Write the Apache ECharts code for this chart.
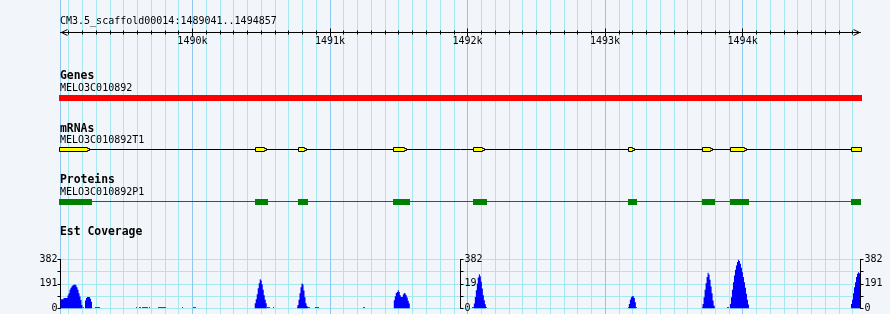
<!DOCTYPE html>
<html><head><meta charset="utf-8">
<script src="https://cdn.jsdelivr.net/npm/echarts@6/dist/echarts.min.js"></script>
<style>html,body{margin:0;padding:0;background:#f2f5fa}#c{width:890px;height:314px}</style>
</head><body><div id="c"></div><script>
// ---------- data ----------
const REGION_NAME = 'CM3.5_scaffold00014:1489041..1494857';
const REGION = [1489041, 1494857];
const MAJOR_TICKS = [1490000, 1491000, 1492000, 1493000, 1494000];
const MAJOR_LABELS = ['1490k', '1491k', '1492k', '1493k', '1494k'];
const MINOR_STEP = 100;

const GENE_NAME = 'MELO3C010892';
const GENE_SPAN = [1489030, 1494868];

const MRNA_NAME = 'MELO3C010892T1';
const MRNA_EXONS = [[1489030,1489241],[1490453,1490526],[1490764,1490815],[1491459,1491549],[1492041,1492109],[1493168,1493205],[1493706,1493770],[1493910,1494017],[1494788,1494868]];

const PROTEIN_NAME = 'MELO3C010892P1';
const PROTEIN_CDS = [[1489030,1489268],[1490453,1490550],[1490764,1490837],[1491457,1491581],[1492039,1492141],[1493166,1493232],[1493704,1493799],[1493908,1494046],[1494788,1494857]];

const COV_MAX = 382;
const COV_TICK_LABELS = [0, 191, 382];
const BIN_BP = 7.27;
const PEAK_STARTS = [1489041, 1489219, 1490453, 1490764, 1491464, 1492046, 1493173, 1493709, 1493908, 1494788];
const PEAK_A = [71,71,71,81,81,81,81,100,118,144,160,172,181,185,186,181,165,144,118,92,65,26];
const PEAK_B = [60,80,89,89,89,75,50];
const PEAK_C = [39,71,110,157,196,228,217,189,144,102,66,39];
const PEAK_D = [26,66,118,165,194,186,139,86,39,18];
const PEAK_E = [63,94,120,128,141,128,102,89,89,108,120,115,102,84,58,37];
const PEAK_F = [37,89,141,194,241,267,251,207,155,102,63,31];
const PEAK_G = [34,66,86,94,94,81,47];
const PEAK_H = [34,86,144,196,244,278,265,223,170,118,60,21];
const PEAK_I = [34,86,144,204,257,301,335,362,380,370,349,317,283,244,204,160,113,66,29];
const PEAK_J = [34,66,118,165,204,244,270,283,275];
const PEAK_VALUES = [PEAK_A, PEAK_B, PEAK_C, PEAK_D, PEAK_E, PEAK_F, PEAK_G, PEAK_H, PEAK_I, PEAK_J];
const LOW_MARKS = [[1489202,1489213,10],[1489290,1489326,10],[1489588,1489596,10],[1489610,1489625,10],[1489634,1489677,10],[1489685,1489692,10],[1489750,1489811,10],[1489925,1489930,10],[1490002,1490024,10],[1490541,1490563,10],[1490584,1490592,10],[1490759,1490768,10],[1490834,1490853,10],[1490890,1490919,10],[1491241,1491253,10],[1492036,1492047,10],[1492129,1492141,10],[1493165,1493173,10],[1493225,1493232,10],[1493705,1493712,10],[1493792,1493799,10],[1493886,1493901,10]];

// ---------- styling / layout ----------
const LEFT = 60.5, RIGHT = 890 - 860.5;
const FONT = '"DejaVu Sans Mono", monospace';
const MINOR_C = '#a4e9f0', MAJOR_C = '#8fc8ee';

const minorTicks = [];
for (let v = Math.ceil(REGION[0] / MINOR_STEP) * MINOR_STEP; v <= REGION[1]; v += MINOR_STEP) minorTicks.push(v);

const grids = [
  {left: LEFT, right: RIGHT, top: 0, height: 314},      // 0 background grid
  {left: LEFT, right: RIGHT, top: 20, height: 12.5},    // 1 ruler
  {left: LEFT, right: RIGHT, top: 95, height: 6},       // 2 gene
  {left: LEFT, right: RIGHT, top: 147.5, height: 4},    // 3 mRNA
  {left: LEFT, right: RIGHT, top: 199, height: 6},      // 4 protein
  {left: LEFT, right: RIGHT, top: 259.5, height: 48.75} // 5 coverage
];

function xa(grid, extra) {
  return Object.assign({type: 'value', gridIndex: grid, min: REGION[0], max: REGION[1], position: 'bottom',
    axisLine: {show: false}, axisTick: {show: false}, axisLabel: {show: false}, splitLine: {show: false}}, extra);
}
const chevron = 'path://M0,7L3.5,0L7,7L6,7L3.5,2L1,7Z';
const xAxes = [
  xa(0, {axisTick: {show: false, customValues: minorTicks}, splitLine: {show: true, lineStyle: {color: MINOR_C, width: 1}}}),
  xa(0, {axisTick: {show: false, customValues: [REGION[0]].concat(MAJOR_TICKS)}, splitLine: {show: true, lineStyle: {color: MAJOR_C, width: 1}}}),
  xa(1, {axisLine: {show: true, symbol: [chevron, chevron], symbolSize: [7, 7], symbolOffset: [3.5, -3.5], lineStyle: {color: '#000', width: 1}},
         axisTick: {show: true, customValues: MAJOR_TICKS, length: 4, inside: false, lineStyle: {color: '#000'}},
         axisLabel: {show: true, customValues: MAJOR_TICKS, margin: 4, color: '#000', fontFamily: FONT, fontSize: 10,
           formatter: v => MAJOR_LABELS[MAJOR_TICKS.indexOf(v)] || ''}}),
  xa(1, {axisTick: {show: true, customValues: MAJOR_TICKS, length: 4, inside: true, lineStyle: {color: '#000'}}}),
  xa(1, {axisTick: {show: true, customValues: minorTicks, length: 2, inside: false, lineStyle: {color: '#000'}}}),
  xa(1, {axisTick: {show: true, customValues: minorTicks, length: 2, inside: true, lineStyle: {color: '#000'}}}),
  xa(2), xa(3), xa(4), xa(5)
];

function hy(grid) { return {type: 'value', gridIndex: grid, min: 0, max: 1, show: false}; }
function covLabel(margin) {
  return {show: true, margin: margin, color: '#000', fontFamily: FONT, fontSize: 10,
    formatter: v => COV_TICK_LABELS.indexOf(v) >= 0 ? String(v) : ''};
}
function covY(extra) {
  return Object.assign({type: 'value', gridIndex: 5, min: 0, max: COV_MAX, interval: COV_MAX / 4,
    axisLine: {show: true, lineStyle: {color: '#000', width: 1}},
    axisTick: {show: true, length: 3, lineStyle: {color: '#000'}},
    axisLabel: covLabel(4),
    splitLine: {show: false}}, extra);
}
const yAxes = [hy(0), hy(1), hy(2), hy(3), hy(4),
  covY({position: 'left', axisLabel: covLabel(3), splitLine: {show: true, lineStyle: {color: MINOR_C, width: 1}}}),
  covY({position: 'right', offset: -400}),
  covY({position: 'right', offset: 0})
];

function rectRender(fill) {
  return function (p, api) {
    const a = api.coord([api.value(0), 1]), b = api.coord([api.value(1), 0]);
    const x0 = Math.round(a[0]), x1 = Math.round(b[0]);
    return {type: 'rect', shape: {x: x0, y: a[1], width: Math.max(1, x1 - x0), height: b[1] - a[1]}, style: {fill: fill}};
  };
}
function lineRender(color) {
  return function (p, api) {
    const a = api.coord([api.value(0), 0.5]), b = api.coord([api.value(1), 0.5]);
    const y = Math.round(a[1]) - 0.5;
    return {type: 'line', shape: {x1: Math.round(a[0]), y1: y, x2: Math.round(b[0]), y2: y}, style: {stroke: color, lineWidth: 1}};
  };
}
function exonRender(p, api) {
  const s = api.value(0), e = api.value(1);
  const a = api.coord([s, 1]), b = api.coord([e, 0]);
  const x0 = Math.round(a[0]) + 0.5, x1 = Math.round(b[0]) - 0.5;
  const y0 = a[1], y1 = b[1];
  let pts;
  if (e < REGION[1]) {
    pts = [[x0, y0], [x1, y0], [x1, y0 + 1], [x1 + 2, y0 + 1], [x1 + 2, y1 - 1], [x1, y1 - 1], [x1, y1], [x0, y1]];
  } else {
    pts = [[x0, y0], [x1, y0], [x1, y1], [x0, y1]];
  }
  return {type: 'polygon', shape: {points: pts}, style: {fill: '#ffff00', stroke: '#000', lineWidth: 1}};
}
function peakRender(p, api) {
  const i = api.value(2);
  const start = PEAK_STARTS[i], vals = PEAK_VALUES[i];
  const pts = [api.coord([start, 0])];
  vals.forEach(function (v, k) {
    pts.push(api.coord([start + k * BIN_BP, v]), api.coord([start + (k + 1) * BIN_BP, v]));
  });
  pts.push(api.coord([start + vals.length * BIN_BP, 0]));
  return {type: 'polygon', shape: {points: pts}, style: {fill: '#0000ff'}};
}
function lowRender(p, api) {
  const a = api.coord([api.value(0), api.value(2)]), b = api.coord([api.value(1), 0]);
  const x0 = Math.round(a[0]), x1 = Math.round(b[0]);
  const y0 = Math.round(a[1]), y1 = Math.floor(b[1]);
  return {type: 'rect', shape: {x: x0, y: y0, width: Math.max(1, x1 - x0), height: Math.max(1, y1 - y0)}, style: {fill: '#ff0000'}};
}

const C = {type: 'custom', silent: true, animation: false};
const series = [
  Object.assign({}, C, {xAxisIndex: 6, yAxisIndex: 2, data: [GENE_SPAN], renderItem: rectRender('#ff0000')}),
  Object.assign({}, C, {xAxisIndex: 7, yAxisIndex: 3, data: [[MRNA_EXONS[0][0], MRNA_EXONS[MRNA_EXONS.length - 1][1]]], renderItem: lineRender('#000')}),
  Object.assign({}, C, {xAxisIndex: 7, yAxisIndex: 3, data: MRNA_EXONS, renderItem: exonRender}),
  Object.assign({}, C, {xAxisIndex: 8, yAxisIndex: 4, data: [[PROTEIN_CDS[0][0], PROTEIN_CDS[PROTEIN_CDS.length - 1][1]]], renderItem: lineRender('#008000')}),
  Object.assign({}, C, {xAxisIndex: 8, yAxisIndex: 4, data: PROTEIN_CDS, renderItem: rectRender('#008000')}),
  Object.assign({}, C, {xAxisIndex: 9, yAxisIndex: 5, data: LOW_MARKS, renderItem: lowRender}),
  Object.assign({}, C, {xAxisIndex: 9, yAxisIndex: 5, data: PEAK_STARTS.map((s, i) => [s, 0, i]), renderItem: peakRender})
];

function txt(t, x, y, bold) {
  return {type: 'text', x: x, y: y, z: 50, silent: true,
    style: {text: t, fill: '#000', font: (bold ? 'bold 11.4px ' : '10px ') + FONT, verticalAlign: 'middle', align: 'left'}};
}
const graphic = [
  txt(REGION_NAME, 60, 21, false),
  txt('Genes', 60, 76, true), txt(GENE_NAME, 60, 88.3, false),
  txt('mRNAs', 60, 128.8, true), txt(MRNA_NAME, 60, 140, false),
  txt('Proteins', 60, 179.8, true), txt(PROTEIN_NAME, 60, 192.2, false),
  txt('Est Coverage', 60, 232.2, true)
];

const chart = echarts.init(document.getElementById('c'), null, {renderer: 'canvas'});
chart.setOption({
  backgroundColor: '#f2f5fa', animation: false,
  grid: grids, xAxis: xAxes, yAxis: yAxes, series: series, graphic: graphic
});
</script></body></html>
